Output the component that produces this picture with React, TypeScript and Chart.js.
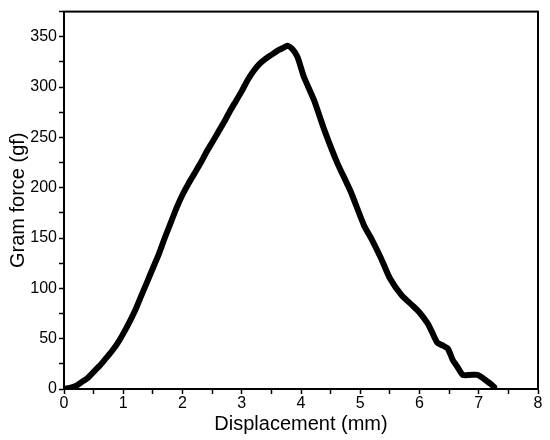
import React, { useEffect, useRef } from "react";
import { Chart, registerables } from "chart.js";

Chart.register(...registerables);

const displacement = [
  0, 0.1, 0.2, 0.3, 0.4, 0.5, 0.6, 0.7, 0.8, 0.9, 1.0, 1.1, 1.2, 1.3, 1.4, 1.5,
  1.6, 1.7, 1.8, 1.9, 2.0, 2.1, 2.2, 2.3, 2.4, 2.5, 2.6, 2.7, 2.8, 2.9, 3.0,
  3.1, 3.2, 3.3, 3.4, 3.5, 3.6, 3.7, 3.77, 3.85, 3.94, 4.05, 4.22, 4.39, 4.61,
  4.84, 5.06, 5.2, 5.35, 5.5, 5.7, 5.9, 6.0, 6.14, 6.2, 6.3, 6.4, 6.48, 6.56,
  6.64, 6.73, 6.85, 6.98, 7.09, 7.2, 7.26,
];
const gramForce = [
  0, 1, 3, 7, 11, 17, 23, 30, 37, 45, 55, 66, 78, 92, 106, 120,
  134, 150, 165, 180, 193, 204, 214, 224, 235, 245, 255, 265, 276, 286, 296,
  307, 316, 323, 328, 332, 336, 339, 341, 338, 330, 310, 287, 258, 225,
  196, 163, 148, 130, 110, 93, 82, 76, 65, 58, 46, 43, 40, 29,
  22, 14, 14, 14, 10, 5, 2,
];

const xMin = 0;
const xMax = 8;
const yMin = 0;
const yMax = 375;

const FONT = "'Liberation Sans', Arial, sans-serif";

const frame = {
  id: "frame",
  afterDraw(chart: any) {
    const { ctx, chartArea } = chart;
    ctx.save();
    ctx.strokeStyle = "#000";
    ctx.lineWidth = 2;
    ctx.strokeRect(chartArea.left, chartArea.top, chartArea.right - chartArea.left, chartArea.bottom - chartArea.top);
    ctx.restore();
  },
};

export default function App() {
  const ref = useRef<HTMLCanvasElement>(null);
  useEffect(() => {
    document.body.style.margin = "0";
    const chart = new Chart(ref.current!, {
      type: "scatter",
      data: {
        datasets: [
          {
            data: displacement.map((x, i) => ({ x, y: gramForce[i] })),
            showLine: true,
            borderColor: "#000",
            borderWidth: 6,
            pointRadius: 0,
            tension: 0.2,
            borderJoinStyle: "round",
            borderCapStyle: "round",
          },
        ],
      },
      options: {
        animation: false,
        responsive: false,
        layout: { padding: { top: 8, right: 12, left: 0, bottom: 0 } },
        plugins: { legend: { display: false }, tooltip: { enabled: false } },
        scales: {
          x: {
            type: "linear",
            min: xMin,
            max: xMax,
            afterFit: (s: any) => { s.height = 51; },
            ticks: {
              stepSize: 0.5,
              autoSkip: false,
              maxRotation: 0,
              padding: 0,
              color: "#000",
              font: { family: FONT, size: 16 },
              callback: (v: any) => (Number(v) % 1 === 0 ? String(v) : ""),
            },
            grid: { drawOnChartArea: false, drawTicks: true, tickLength: 5, tickColor: "#000", tickWidth: 1.5 },
            border: { color: "#000", width: 2 },
            title: { display: true, text: "Displacement (mm)", color: "#000", font: { family: FONT, size: 20 }, padding: { top: 0, bottom: 4 } },
          },
          y: {
            type: "linear",
            min: yMin,
            max: yMax,
            afterFit: (s: any) => { s.width = 64; },
            ticks: {
              stepSize: 25,
              autoSkip: false,
              padding: 2,
              color: "#000",
              font: { family: FONT, size: 16 },
              callback: (v: any) => (Number(v) % 50 === 0 ? String(v) : ""),
            },
            grid: { drawOnChartArea: false, drawTicks: true, tickLength: 5, tickColor: "#000", tickWidth: 1.5 },
            border: { color: "#000", width: 2 },
            title: { display: true, text: "Gram force (gf)", color: "#000", font: { family: FONT, size: 20 }, padding: { top: 6, bottom: 0 } },
          },
        },
      },
      plugins: [frame],
    });
    return () => chart.destroy();
  }, []);
  return (
    <div style={{ position: "absolute", left: 0, top: 0, width: 550, height: 440, background: "#fff" }}>
      <canvas ref={ref} width={550} height={440} style={{ width: 550, height: 440 }} />
    </div>
  );
}
